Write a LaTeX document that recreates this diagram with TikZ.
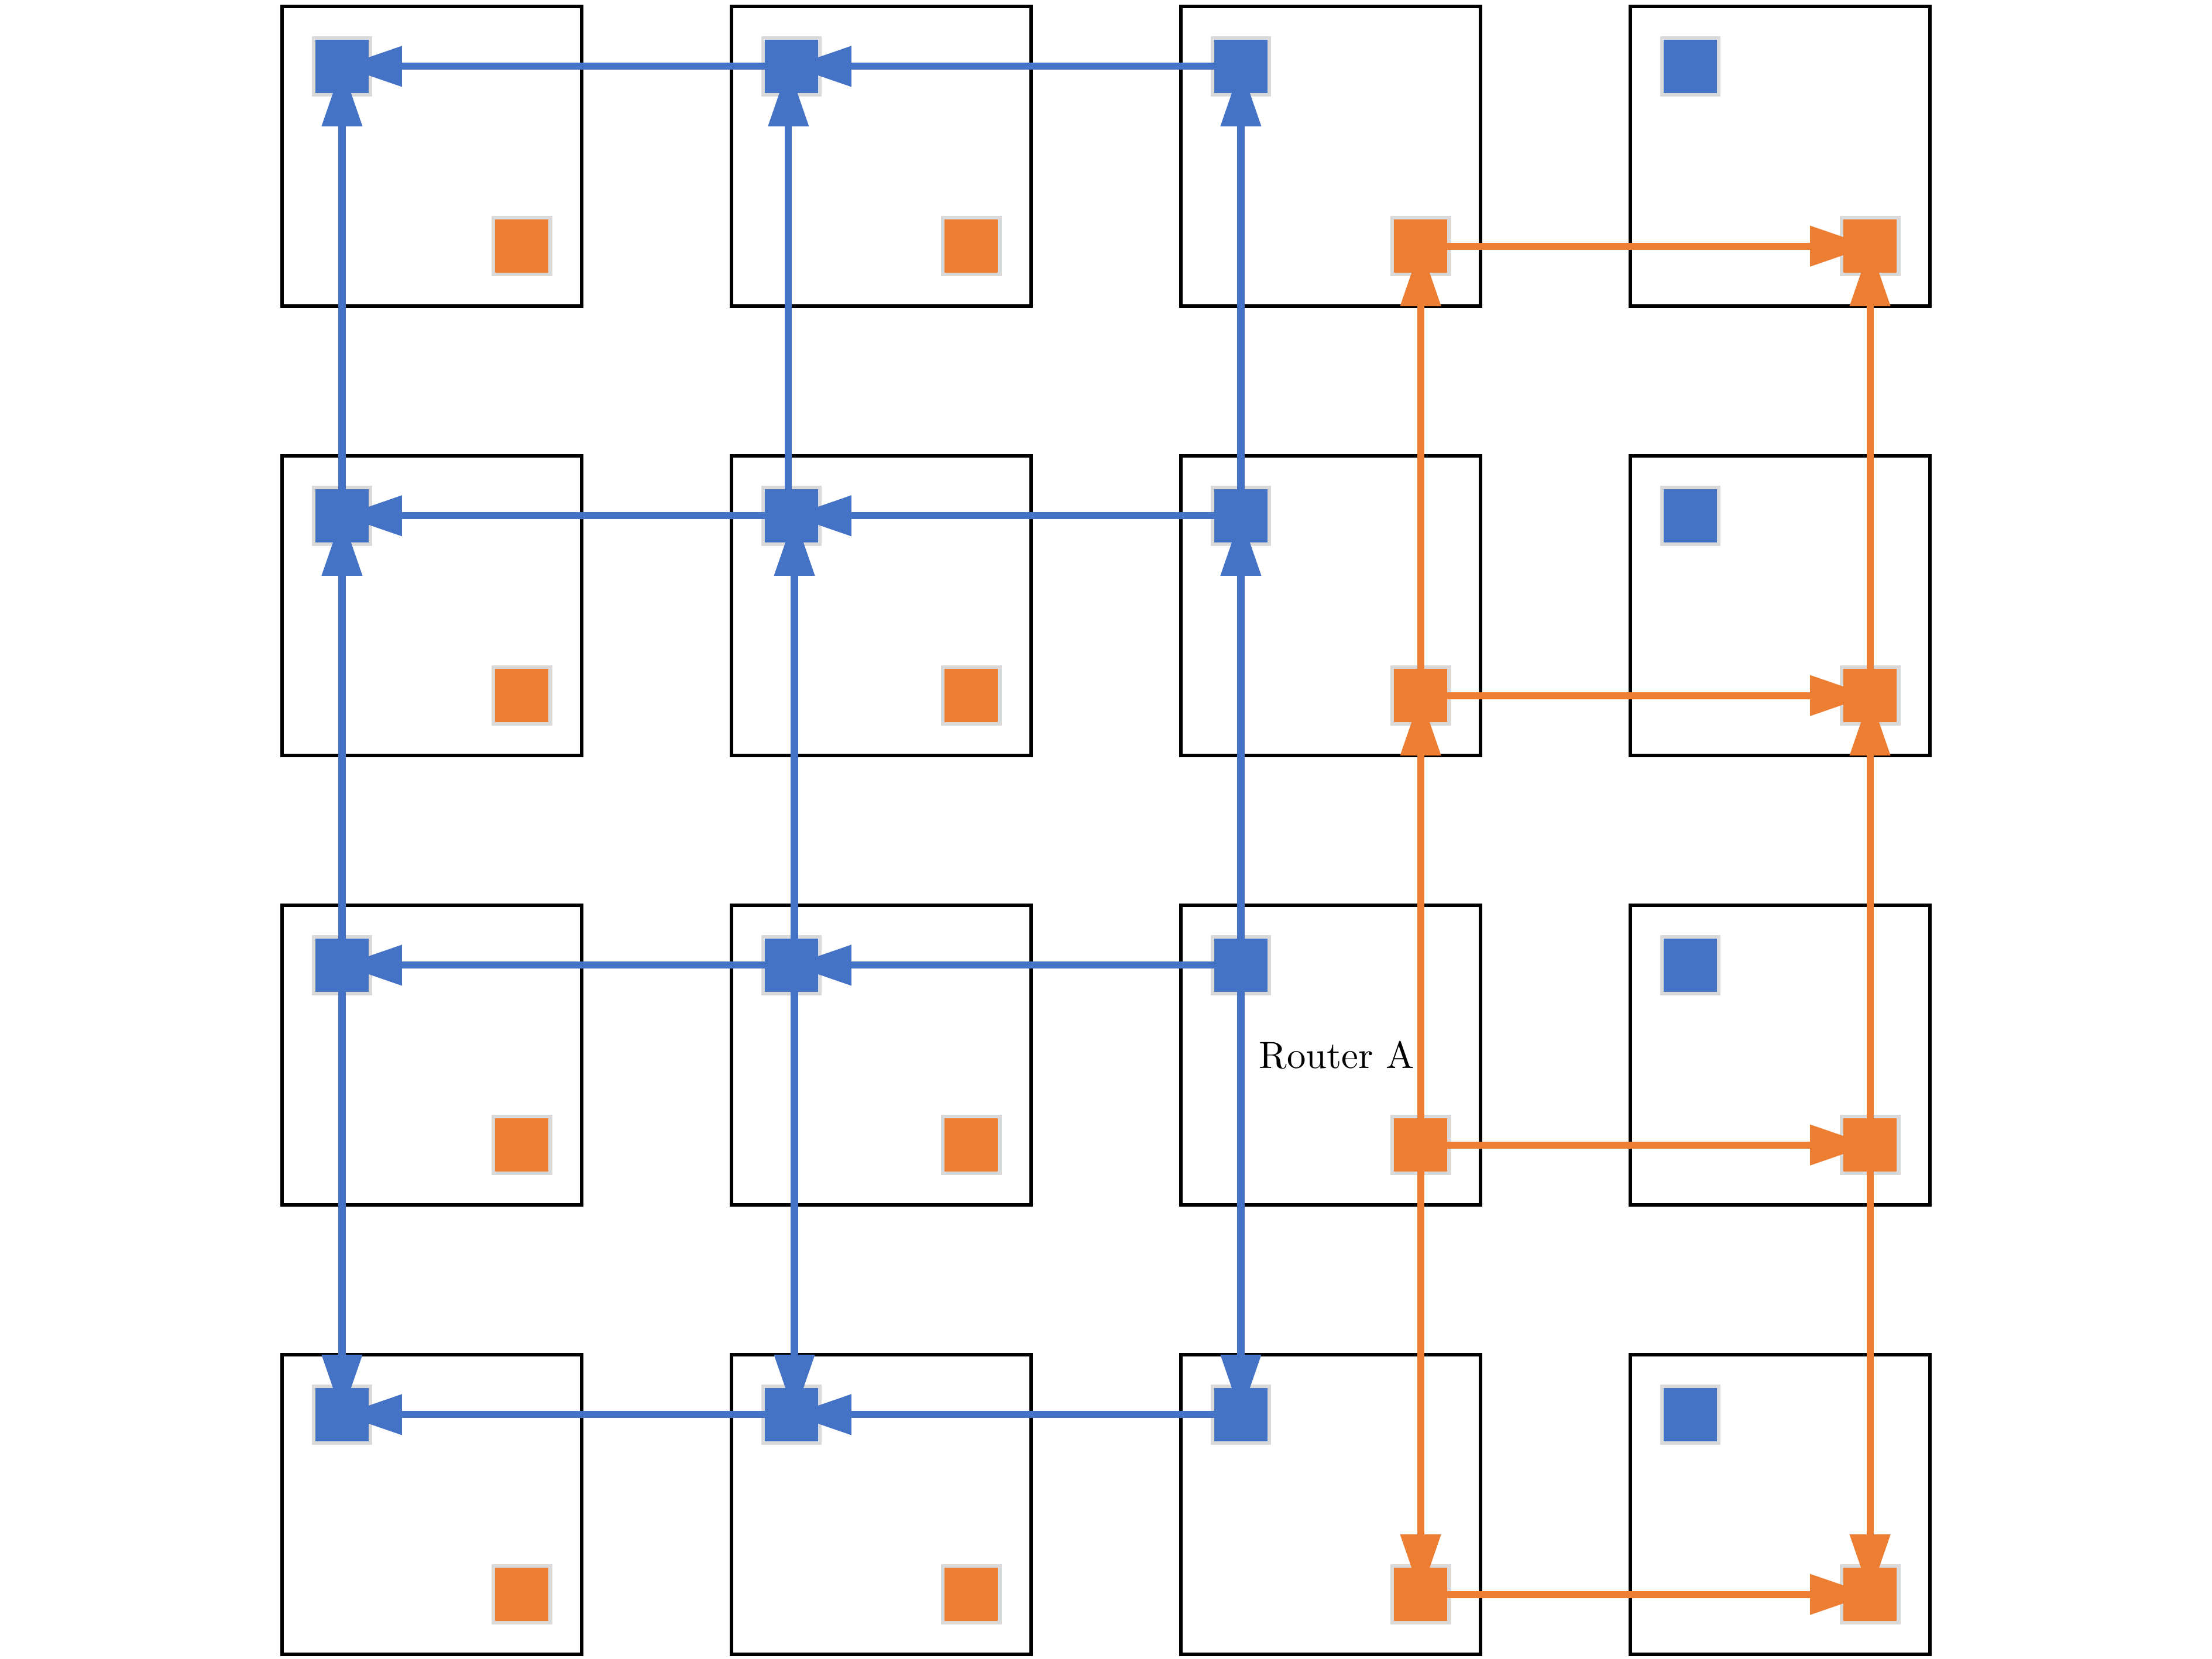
\documentclass[tikz,border=0pt]{standalone}
\usetikzlibrary{arrows.meta}
\definecolor{nocblue}{HTML}{4472C4}
\definecolor{nocorange}{HTML}{ED7D31}
\definecolor{nocgray}{HTML}{D9D9D9}
\begin{document}
\begin{tikzpicture}[
  tile/.style={rectangle, draw=black, line width=0.6pt, minimum size=2cm, inner sep=0pt},
  sq/.style={rectangle, draw=nocgray, line width=0.72pt, minimum size=0.38cm, inner sep=0pt},
  bsq/.style={sq, fill=nocblue},
  osq/.style={sq, fill=nocorange},
  tipx/.style={-{Triangle[length=0.4cm,width=0.26cm]}},
  barrow/.style={draw=nocblue, line width=1.35pt, tipx},
  oarrow/.style={draw=nocorange, line width=1.35pt, tipx},
  lbl/.style={inner sep=0pt, scale=0.72, font=\fontsize{10}{12}\selectfont}
]
\useasboundingbox (-1.883,-11.031) rectangle (12.883,0.043);
% tiles and router squares
\foreach \c in {0,...,3}{
  \foreach \r in {0,...,3}{
    \node[tile] (t\c\r) at ({3*\c+1},{-3*\r-1}) {};
    \node[bsq] (b\c\r) at ({3*\c+0.4},{-3*\r-0.4}) {};
    \node[osq] (o\c\r) at ({3*\c+1.6},{-3*\r-1.6}) {};
  }
}
% blue horizontal links (towards the left)
\foreach \r in {0,...,3}{
  \draw[barrow] (b2\r.center) -- (b1\r.center);
  \draw[barrow] (b1\r.center) -- (b0\r.center);
}
% blue vertical links
\foreach \c in {0,2}{
  \draw[barrow] (b\c2.center) -- (b\c1.center);
  \draw[barrow] (b\c1.center) -- (b\c0.center);
  \draw[barrow] (b\c2.center) -- (b\c3.center);
}
\draw[barrow] ([xshift=0.02cm]b12.center) -- ([xshift=0.02cm]b11.center);
\draw[barrow] ([xshift=-0.02cm]b11.center) -- ([xshift=-0.02cm]b10.center);
\draw[barrow] ([xshift=0.02cm]b12.center) -- ([xshift=0.02cm]b13.center);
% orange horizontal links (towards the right)
\foreach \r in {0,...,3}{
  \draw[oarrow] (o2\r.center) -- (o3\r.center);
}
% orange vertical links
\foreach \c in {2,3}{
  \draw[oarrow] (o\c2.center) -- (o\c1.center);
  \draw[oarrow] (o\c1.center) -- (o\c0.center);
  \draw[oarrow] (o\c2.center) -- (o\c3.center);
}
\node[lbl] (routerA) at (7.04,-7) {Router A};
\end{tikzpicture}
\end{document}
